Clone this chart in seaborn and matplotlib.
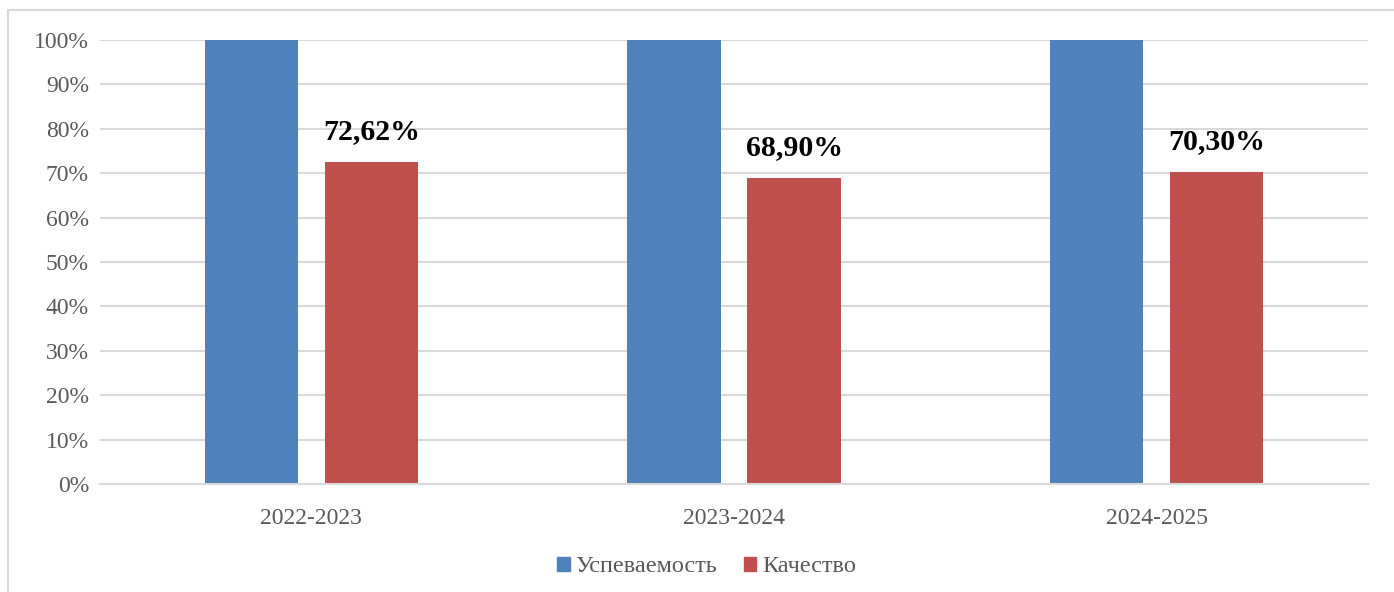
import matplotlib
matplotlib.use("Agg")
import matplotlib.pyplot as plt
import matplotlib.patches as mpatches
import pandas as pd
import seaborn as sns

# ── Данные ──────────────────────────────────────────────────────────────────
years = ["2022-2023", "2023-2024", "2024-2025"]
uspevaemost = [100.0, 100.0, 100.0]
kachestvo = [72.62, 68.90, 70.30]
series_names = ["Успеваемость", "Качество"]
colors = ["#4F81BD", "#C0504D"]

df = pd.DataFrame({
    "year": years * 2,
    "value": uspevaemost + kachestvo,
    "series": [series_names[0]] * 3 + [series_names[1]] * 3,
})

sns.set_theme(style="white")
plt.rcParams["font.family"] = ["Liberation Serif", "DejaVu Serif"]

fig = plt.figure(figsize=(13.94, 5.92), dpi=100)
ax = fig.add_axes([100 / 1394, 108 / 592, 1268 / 1394, 444 / 592])

sns.barplot(
    data=df, x="year", y="value", hue="series",
    palette=colors, width=0.568, gap=0.22, ax=ax,
    legend=False, saturation=1, edgecolor="none",
)

ax.set_ylim(0, 100)
ax.set_xlim(-0.5, 2.5)
ax.set_yticks(range(0, 101, 10))
ax.set_yticklabels([f"{v}%" for v in range(0, 101, 10)])
ax.yaxis.grid(True, color="#D9D9D9", linewidth=1.5)
ax.set_axisbelow(True)
for s in ["top", "right", "left"]:
    ax.spines[s].set_visible(False)
ax.spines["bottom"].set_color("#D9D9D9")
ax.spines["bottom"].set_linewidth(1.5)
ax.tick_params(axis="both", length=0, labelsize=17, colors="#595959")
ax.tick_params(axis="x", pad=17)
ax.tick_params(axis="y", pad=8)
ax.set_xlabel("")
ax.set_ylabel("")

# подписи только у «Качество»
red_bars = ax.containers[1]
ax.bar_label(
    red_bars, labels=[f"{v:.2f}%".replace(".", ",") for v in kachestvo],
    padding=12, fontsize=21.5, fontweight="bold", color="black",
)

handles = [mpatches.Patch(color=c, label=n) for c, n in zip(colors, series_names)]
fig.legend(
    handles=handles, loc="center", bbox_to_anchor=(0.507, 25 / 592), ncol=2,
    frameon=False, fontsize=17.5, handlelength=0.5, handleheight=0.5,
    handletextpad=0.25, columnspacing=1.1, labelcolor="#595959",
)

# рамка вокруг диаграммы
fig.patches.append(mpatches.Rectangle(
    (8 / 1394, -0.05), 1.1, (582 / 592) + 0.05, transform=fig.transFigure,
    fill=False, edgecolor="#D9D9D9", linewidth=1.5,
))

fig.savefig("out.png", dpi=100)
plt.close()
